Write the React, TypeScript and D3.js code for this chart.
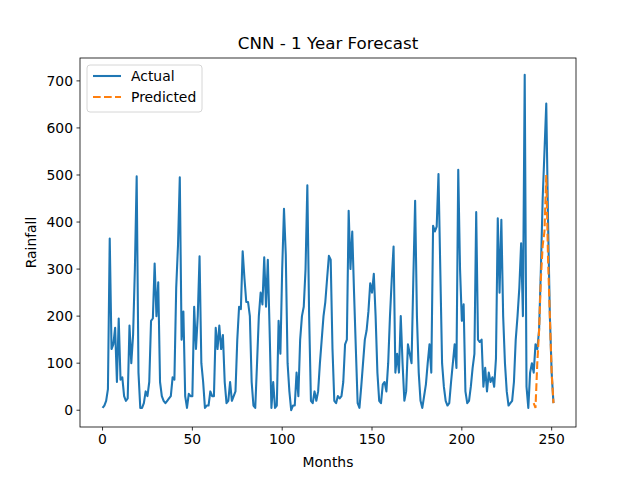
import React from "react";
import * as d3 from "d3";

const actual: number[] = [
5,10,20,45,365,130,140,175,60,195,65,70,
30,20,25,180,100,160,300,497,80,5,5,15,
40,30,60,190,195,312,200,272,60,30,20,15,
20,25,30,70,65,260,350,495,150,210,30,5,
35,30,30,220,130,200,327,100,60,5,10,10,
40,30,30,175,130,180,130,160,60,15,20,60,
20,30,40,150,220,215,338,280,230,230,200,60,
10,5,100,200,250,225,325,220,320,170,5,60,
5,10,190,120,300,428,330,100,40,0,10,10,
80,30,150,200,220,300,478,200,20,15,40,20,
40,100,150,200,230,280,328,320,130,20,15,30,
25,30,60,140,150,424,300,380,250,130,15,5,
50,100,150,170,210,270,250,290,200,80,20,15,
55,60,40,100,200,280,348,80,120,80,200,100,
20,40,140,120,100,280,445,200,80,20,5,30,
55,100,140,80,392,380,390,502,300,100,50,20,
10,15,60,100,140,90,511,300,190,225,40,15,
20,50,90,120,421,150,145,150,50,90,40,80,
60,70,50,110,408,250,405,200,100,40,10,15,
20,60,150,200,260,355,200,713,50,5,80,100,
80,140,130,170,300,450,550,652,400,200,80,15,
];
const predStart = 240;
const predicted: number[] = [15,5,100,170,280,350,380,500,320,200,80,15];
const xTicks = [0,50,100,150,200,250];
const yTicks = [0,100,200,300,400,500,600,700];

export default function App() {
  const L = 80, R = 576, T = 58, B = 427;
  const n = actual.length;
  const xpad = (n - 1) * 0.05, ypad = 713 * 0.05;
  const x = d3.scaleLinear().domain([-xpad, n - 1 + xpad]).range([L, R]);
  const y = d3.scaleLinear().domain([-ypad, 713 + ypad]).range([B, T]);
  const line = d3.line<number>().x((_, i) => x(i)).y(d => y(d));
  const pline = d3.line<number>().x((_, i) => x(predStart + i)).y(d => y(d));
  const font = "DejaVu Sans";
  return (
    <svg width={640} height={480} style={{ position: "absolute", left: 0, top: 0, fontFamily: font }}>
      <rect width={640} height={480} fill="#fff" />
      <path d={line(actual)!} fill="none" stroke="#1f77b4" strokeWidth={2.08} strokeLinejoin="round" />
      <path d={pline(predicted)!} fill="none" stroke="#ff7f0e" strokeWidth={2.08} strokeDasharray="7.7,3.3" />
      <rect x={L} y={T} width={R - L} height={B - T} fill="none" stroke="#000" strokeWidth={0.8} />
      {xTicks.map(t => (
        <g key={t}>
          <line x1={x(t)} x2={x(t)} y1={B} y2={B + 3.5} stroke="#000" strokeWidth={0.8} />
          <text x={x(t)} y={B + 17} fontSize={13.9} textAnchor="middle">{t}</text>
        </g>
      ))}
      {yTicks.map(t => (
        <g key={t}>
          <line x1={L - 3.5} x2={L} y1={y(t)} y2={y(t)} stroke="#000" strokeWidth={0.8} />
          <text x={L - 7} y={y(t) + 5} fontSize={13.9} textAnchor="end">{t}</text>
        </g>
      ))}
      <text x={(L + R) / 2} y={49} fontSize={16.7} textAnchor="middle">CNN - 1 Year Forecast</text>
      <text x={(L + R) / 2} y={467} fontSize={13.9} textAnchor="middle">Months</text>
      <text transform={`translate(36,${(T + B) / 2}) rotate(-90)`} fontSize={13.9} textAnchor="middle">Rainfall</text>
      <rect x={87} y={65} width={115} height={47} rx={3} fill="#fff" stroke="#ccc" strokeWidth={0.8} />
      <line x1={93} x2={121} y1={76} y2={76} stroke="#1f77b4" strokeWidth={2.08} />
      <text x={131} y={81} fontSize={13.9}>Actual</text>
      <line x1={93} x2={121} y1={97} y2={97} stroke="#ff7f0e" strokeWidth={2.08} strokeDasharray="7.7,3.3" />
      <text x={131} y={102} fontSize={13.9}>Predicted</text>
    </svg>
  );
}
